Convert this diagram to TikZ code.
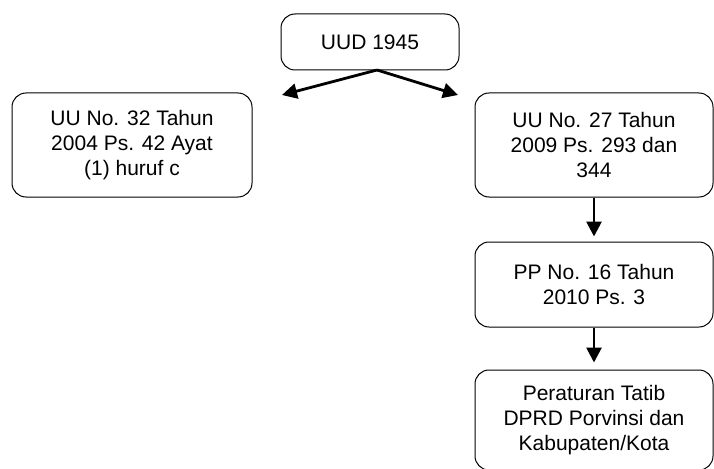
\documentclass[tikz,border=0pt]{standalone}
\usepackage{fontspec}
\setmainfont{Liberation Sans}
\usetikzlibrary{arrows.meta}
\begin{document}
\begin{tikzpicture}[x=1pt,y=-1pt,
  box/.style={draw=black, line width=1pt, rounded corners=14pt, align=center,
    font=\fontsize{21}{25}\selectfont, inner sep=0pt, anchor=center},
  arr/.style={line width=2.8pt, -{Triangle[length=15pt,width=15pt]}}]
\useasboundingbox (0,0) rectangle (714,468);
\node[box, minimum width=178pt, minimum height=56pt] (uud) at (370,42) {UUD 1945};
\node[box, minimum width=240pt, minimum height=104pt] (l) at (132,145) {UU No. 32 Tahun\\2004 Ps. 42 Ayat\\(1) huruf c};
\node[box, minimum width=238pt, minimum height=104pt] (r1) at (594,145) {UU No. 27 Tahun\\2009 Ps. 293 dan\\344};
\node[box, minimum width=238pt, minimum height=85pt] (pp) at (594,284.5) {PP No. 16 Tahun\\2010 Ps. 3};
\node[box, minimum width=238pt, minimum height=100pt] (per) at (594,420) {Peraturan Tatib\\DPRD Porvinsi dan\\Kabupaten/Kota};
\coordinate (s) at (377,70);
\coordinate (lt) at (282,95);
\coordinate (rt) at (458,95);
\draw[arr] (s) -- (lt);
\draw[arr] (s) -- (rt);
\draw[arr, shorten >=5pt] (r1.south) -- (pp.north);
\draw[arr, shorten >=7pt] (pp.south) -- (per.north);
\end{tikzpicture}
\end{document}
